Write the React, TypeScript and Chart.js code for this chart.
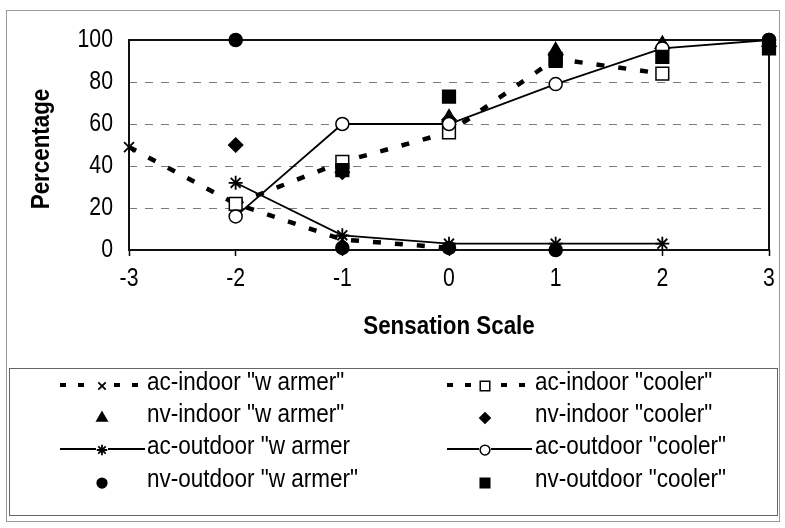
import React, { useEffect, useRef } from 'react';
import { Chart, registerables } from 'chart.js';
import { drawPoint } from 'chart.js/helpers';

Chart.register(...registerables);

// ---- data ----
const sensation = [-3, -2, -1, 0, 1, 2, 3];
const xTickLabels = ['-3', '-2', '-1', '0', '1', '2', '3'];
const yTickValues = [0, 20, 40, 60, 80, 100];
const yTickLabels = ['0', '20', '40', '60', '80', '100'];

const acIndoorWarmer = [49, 22, 5, 1, null, null, null];
const acIndoorCooler = [null, 22, 42, 56, 91, 84, null];
const nvIndoorWarmer = [null, null, null, 63, 95, 98, null];
const nvIndoorCooler = [null, 50, 37, 62, 93, 96, 97];
const acOutdoorWarmer = [null, 32, 7, 3, 3, 3, null];
const acOutdoorCooler = [null, 16, 60, 60, 79, 96, 100];
const nvOutdoorWarmer = [null, 100, 1, 1, 0, null, 100];
const nvOutdoorCooler = [null, null, 38, 73, 90, 92, 96];

const seriesLabels = [
  'ac-indoor "w armer"',
  'ac-indoor "cooler"',
  'nv-indoor "w armer"',
  'nv-indoor "cooler"',
  'ac-outdoor "w armer',
  'ac-outdoor "cooler"',
  'nv-outdoor "w armer"',
  'nv-outdoor "cooler"',
];
const xTitle = 'Sensation Scale';
const yTitle = 'Percentage';

const FONT = "'Liberation Sans', Arial, sans-serif";

const toPoints = (vals: (number | null)[]) =>
  sensation.map((x, i) => ({ x, y: vals[i] }));

function drawNarrowText(
  ctx: CanvasRenderingContext2D,
  text: string,
  x: number,
  y: number,
  font: string,
  sx: number,
  align: CanvasTextAlign,
  rotate = 0
) {
  ctx.save();
  ctx.translate(x, y);
  if (rotate) ctx.rotate(rotate);
  ctx.scale(sx, 1);
  ctx.font = font;
  ctx.textAlign = align;
  ctx.textBaseline = 'middle';
  ctx.fillStyle = '#000';
  ctx.fillText(text, 0, 0);
  ctx.restore();
}

const frameLegendPlugin = {
  id: 'frameLegend',
  beforeDraw(chart: any) {
    const ctx = chart.ctx;
    ctx.save();
    ctx.fillStyle = '#ffffff';
    ctx.fillRect(0, 0, chart.width, chart.height);
    ctx.strokeStyle = '#9a9a9a';
    ctx.lineWidth = 1;
    ctx.strokeRect(6.5, 10.5, 773, 511);
    ctx.restore();
  },
  beforeDatasetsDraw(chart: any) {
    const { ctx, chartArea } = chart;
    ctx.save();
    ctx.strokeStyle = '#111';
    ctx.lineWidth = 2;
    ctx.strokeRect(chartArea.left, chartArea.top, chartArea.right - chartArea.left, chartArea.bottom - chartArea.top);
    ctx.restore();
  },
  afterDraw(chart: any) {
    const ctx = chart.ctx as CanvasRenderingContext2D;
    const { chartArea, scales } = chart;
    ctx.save();
    // tick labels
    yTickValues.forEach((v, i) => {
      drawNarrowText(ctx, yTickLabels[i], chartArea.left - 16, scales.y.getPixelForValue(v), `25px ${FONT}`, 0.85, 'right');
    });
    sensation.forEach((v, i) => {
      drawNarrowText(ctx, xTickLabels[i], scales.x.getPixelForValue(v), chartArea.bottom + 29, `25px ${FONT}`, 0.85, 'center');
    });
    // axis titles
    drawNarrowText(ctx, xTitle, (chartArea.left + chartArea.right) / 2, chartArea.bottom + 77, `bold 26px ${FONT}`, 0.86, 'center');
    drawNarrowText(ctx, yTitle, 42, (chartArea.top + chartArea.bottom) / 2 + 4, `bold 26px ${FONT}`, 0.86, 'center', -Math.PI / 2);

    // legend
    ctx.strokeStyle = '#666';
    ctx.lineWidth = 1;
    ctx.strokeRect(9.5, 368.5, 768, 147);
    const rows = [383, 415, 447, 480];
    const cols = [
      { x0: 60, x1: 145, mx: 102, tx: 147 },
      { x0: 447, x1: 532, mx: 485, tx: 535 },
    ];
    chart.data.datasets.forEach((ds: any, i: number) => {
      const y = rows[Math.floor(i / 2)];
      const col = cols[i % 2];
      if (ds.showLine !== false) {
        ctx.save();
        ctx.strokeStyle = '#000';
        ctx.lineWidth = ds.borderDash && ds.borderDash.length ? 4 : ds.borderWidth;
        ctx.setLineDash(ds.borderDash && ds.borderDash.length ? [6, 12] : []);
        ctx.beginPath();
        ctx.moveTo(col.x0, y + 2);
        ctx.lineTo(col.x1, y + 2);
        ctx.stroke();
        ctx.restore();
      }
      ctx.save();
      ctx.setLineDash([]);
      if (ds.showLine !== false) {
        ctx.fillStyle = '#fff';
        ctx.fillRect(col.mx - 6, y - 5, 12, 14);
      }
      ctx.fillStyle = ds.pointBackgroundColor;
      ctx.strokeStyle = ds.pointBorderColor;
      ctx.lineWidth = ds.pointBorderWidth;
      drawPoint(
        ctx,
        { pointStyle: ds.pointStyle, radius: ds.pointRadius * 0.75, rotation: 0, borderWidth: ds.pointBorderWidth },
        col.mx,
        y + 3
      );
      ctx.restore();
      drawNarrowText(ctx, ds.label, col.tx, y, `25px ${FONT}`, 0.9, 'left');
    });
    ctx.restore();
  },
};

function makeDataset(label: string, vals: (number | null)[], idx: number, opts: any) {
  return {
    label,
    data: toPoints(vals),
    borderColor: '#000',
    pointBorderColor: '#000',
    pointBorderWidth: 1.5,
    pointHoverRadius: 0,
    tension: 0,
    clip: false,
    order: 7 - idx,
    ...opts,
  };
}

export default function App() {
  const ref = useRef<HTMLCanvasElement | null>(null);
  useEffect(() => {
    document.body.style.margin = '0';
    const canvas = ref.current;
    if (!canvas) return;
    Chart.defaults.font.family = FONT;
    Chart.defaults.color = '#000';
    const dashed = { borderWidth: 4.5, borderDash: [8, 14], showLine: true };
    const solid = { borderWidth: 1.8, borderDash: [], showLine: true };
    const none = { showLine: false, borderWidth: 0 };
    const chart = new Chart(canvas, {
      type: 'line',
      data: {
        datasets: [
          makeDataset(seriesLabels[0], acIndoorWarmer, 0, { ...dashed, pointStyle: 'crossRot', pointRadius: 7, pointBackgroundColor: '#000', pointBorderWidth: 1.8 }),
          makeDataset(seriesLabels[1], acIndoorCooler, 1, { ...dashed, pointStyle: 'rect', pointRadius: 9, pointBackgroundColor: '#fff' }),
          makeDataset(seriesLabels[2], nvIndoorWarmer, 2, { ...none, pointStyle: 'triangle', pointRadius: 8, pointBackgroundColor: '#000' }),
          makeDataset(seriesLabels[3], nvIndoorCooler, 3, { ...none, pointStyle: 'rectRot', pointRadius: 7, pointBackgroundColor: '#000' }),
          makeDataset(seriesLabels[4], acOutdoorWarmer, 4, { ...solid, pointStyle: 'star', pointRadius: 7, pointBackgroundColor: '#000', pointBorderWidth: 1.8 }),
          makeDataset(seriesLabels[5], acOutdoorCooler, 5, { ...solid, pointStyle: 'circle', pointRadius: 6.5, pointBackgroundColor: '#fff' }),
          makeDataset(seriesLabels[6], nvOutdoorWarmer, 6, { ...none, pointStyle: 'circle', pointRadius: 6.5, pointBackgroundColor: '#000' }),
          makeDataset(seriesLabels[7], nvOutdoorCooler, 7, { ...none, pointStyle: 'rect', pointRadius: 9, pointBackgroundColor: '#000' }),
        ],
      },
      options: {
        responsive: false,
        animation: false,
        devicePixelRatio: 1,
        layout: { padding: { left: 0, top: 40, right: 16, bottom: 178 } },
        plugins: {
          legend: { display: false },
          tooltip: { enabled: false },
        },
        scales: {
          x: {
            type: 'linear',
            min: -3,
            max: 3,
            afterFit: (scale: any) => { scale.height = 100; },
            afterBuildTicks: (scale: any) => {
              scale.ticks = sensation.map((v) => ({ value: v }));
            },
            ticks: { display: false },
            grid: {
              drawOnChartArea: false,
              drawTicks: true,
              tickLength: 6,
              tickColor: '#000',
              tickWidth: 1.5,
              color: '#000',
            },
            border: { display: false },
            title: { display: false },
          },
          y: {
            min: 0,
            max: 100,
            afterFit: (scale: any) => { scale.width = 129; },
            afterBuildTicks: (scale: any) => {
              scale.ticks = yTickValues.map((v) => ({ value: v }));
            },
            ticks: { display: false },
            grid: {
              drawTicks: false,
              lineWidth: 1,
              color: (c: any) => (c.tick && (c.tick.value === 0 || c.tick.value === 100) ? 'rgba(0,0,0,0)' : '#7a7a7a'),
            },
            border: { display: false, dash: [8, 8] },
            title: { display: false },
          },
        },
      } as any,
      plugins: [frameLegendPlugin],
    });
    return () => chart.destroy();
  }, []);
  return <canvas ref={ref} width={785} height={528} style={{ display: 'block' }} />;
}
